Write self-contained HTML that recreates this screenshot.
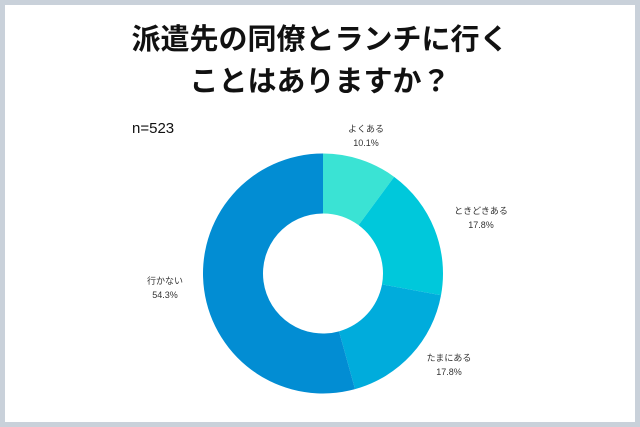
<!DOCTYPE html>
<html><head><meta charset="utf-8"><style>
body{margin:0;width:640px;height:427px;background:#c9d1da;overflow:hidden;font-family:"Liberation Sans","Noto Sans CJK JP",sans-serif}
#panel{position:absolute;left:5px;top:5px;width:630px;height:417px;background:#fff}
.t{position:absolute;left:0;width:640px;text-align:center;font-weight:bold;font-size:29px;color:#111}
</style></head><body>
<div id="panel"></div>
<div class="t" style="top:16px">派遣先の同僚とランチに行く</div>
<div class="t" style="top:58px">ことはありますか？</div>
<div style="position:absolute;left:132px;top:120px;font-size:15px;color:#111">n=523</div>
<svg id="c" width="640" height="427" style="position:absolute;left:0;top:0"></svg>
<script>
const categories=["よくある","ときどきある","たまにある","行かない"];
const values=[10.1,17.8,17.8,54.3];
const labels=["10.1%","17.8%","17.8%","54.3%"];
const colors=["#3ae3d4","#00c8db","#00acdc","#028dd3"];
const labelPos=[[366,132],[481,214],[449,361],[165,284]];
const cx=323,cy=273.5,R=120,r=60;
const svg=document.getElementById('c');
const NS="http://www.w3.org/2000/svg";
const total=values.reduce((a,b)=>a+b,0);
function pt(a,rad){return [cx+rad*Math.sin(a),cy-rad*Math.cos(a)];}
let a0=0;
values.forEach((v,i)=>{
 const a1=a0+v/total*2*Math.PI;
 const L=(a1-a0)>Math.PI?1:0;
 const [x0,y0]=pt(a0,R),[x1,y1]=pt(a1,R),[x2,y2]=pt(a1,r),[x3,y3]=pt(a0,r);
 const p=document.createElementNS(NS,'path');
 p.setAttribute('d',`M${x0},${y0}A${R},${R} 0 ${L} 1 ${x1},${y1}L${x2},${y2}A${r},${r} 0 ${L} 0 ${x3},${y3}Z`);
 p.setAttribute('fill',colors[i]);
 
 
 svg.appendChild(p);
 [categories[i],labels[i]].forEach((s,j)=>{
  const t=document.createElementNS(NS,'text');
  t.setAttribute('x',labelPos[i][0]);t.setAttribute('y',labelPos[i][1]+j*14);
  t.setAttribute('text-anchor','middle');t.setAttribute('font-size','9');t.setAttribute('fill','#333');
  t.textContent=s;
  
  
  svg.appendChild(t);
 });
 a0=a1;
});
</script>
</body></html>
